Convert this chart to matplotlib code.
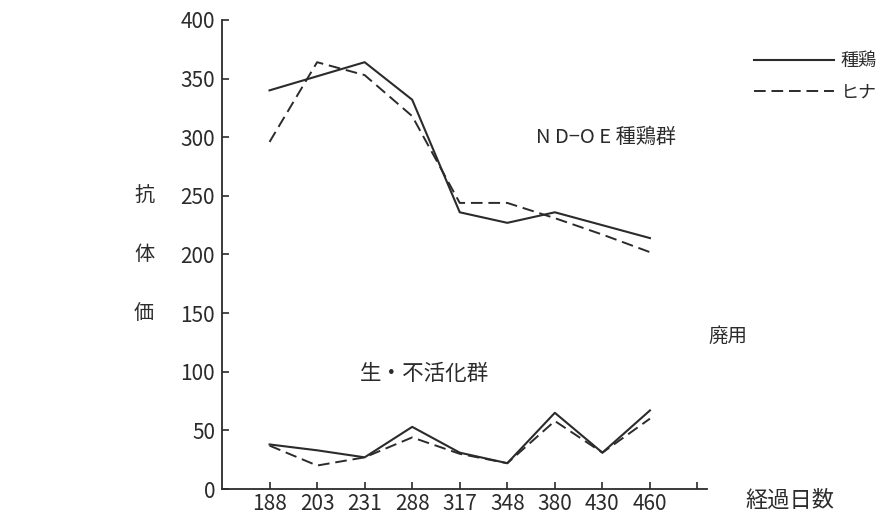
import matplotlib.pyplot as plt
import numpy as np

plt.rcParams['font.family'] = ['Noto Sans CJK JP', 'DejaVu Sans']

days = ['188', '203', '231', '288', '317', '348', '380', '430', '460']

# ND-OE 種鶏群
nd_hen = [340, 352, 364, 332, 236, 227, 236, 225, 214]
nd_chick = [296, 364, 353, 318, 244, 244, 231, 217, 202]
# 生・不活化群
live_hen = [38, 33, 27, 53, 31, 22, 65, 31, 67]
live_chick = [37, 20, 27, 44, 30, 22, 58, 31, 60]

ink = '#2b2b2b'

fig = plt.figure(figsize=(8.81, 5.2), dpi=100)
ax = fig.add_axes([222 / 881, 31 / 520, 485 / 881, 469 / 520])

x = np.arange(len(days))
ax.plot(x, nd_hen, color=ink, lw=1.5, label='種鶏')
ax.plot(x, nd_chick, color=ink, lw=1.4, ls=(0, (6, 3)), label='ヒナ')
ax.plot(x, live_hen, color=ink, lw=1.5)
ax.plot(x, live_chick, color=ink, lw=1.4, ls=(0, (6, 3)))

ax.set_xlim(-1.0, 9.2)
ax.set_ylim(0, 400)
ax.set_xticks(list(x) + [9])
ax.set_xticklabels(days + [''])
ax.set_yticks(range(0, 401, 50))
for s in ['top', 'right']:
    ax.spines[s].set_visible(False)
for s in ['left', 'bottom']:
    ax.spines[s].set_color(ink)
    ax.spines[s].set_linewidth(1.3)
ax.tick_params(direction='in', length=5, width=1.2, colors=ink, labelsize=15)
ax.tick_params(axis='y', pad=5)
ax.tick_params(axis='x', pad=3)

ax.text(10.0, 0, '経過日数', fontsize=16, color=ink, va='top', ha='left',
        transform=ax.transData, clip_on=False)
ax.text(5.6, 300, 'N D−O E 種鶏群', fontsize=14.5, color=ink, va='center', ha='left')
ax.text(3.25, 98, '生・不活化群', fontsize=15.5, color=ink, va='center', ha='center')
ax.text(9.64, 130, '廃用', fontsize=14, color=ink, va='center', ha='center',
        clip_on=False)

for ch, yv in zip('抗体価', [250, 200, 150]):
    ax.text(-0.14, yv, ch, fontsize=14.5, color=ink, va='center', ha='right',
            transform=ax.get_yaxis_transform())

leg = fig.legend(loc='upper left', bbox_to_anchor=(738 / 881, 1 - 36 / 520),
                 frameon=False, fontsize=13, handlelength=4.4, labelspacing=0.75,
                 handletextpad=0.4)
for t in leg.get_texts():
    t.set_color(ink)

fig.savefig('out.png', dpi=100)
